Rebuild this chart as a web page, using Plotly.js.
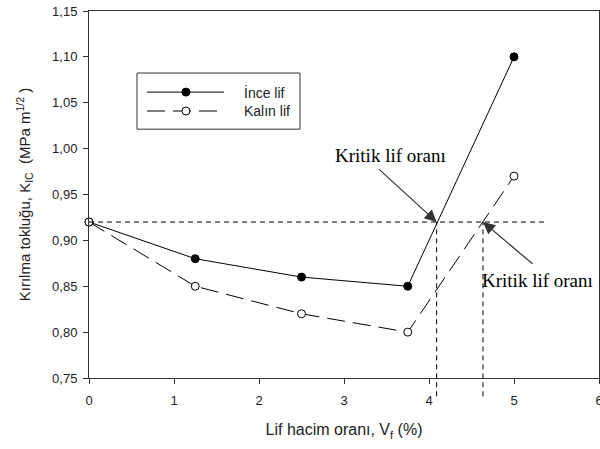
<!DOCTYPE html>
<html><head><meta charset="utf-8">
<script src="https://cdn.plot.ly/plotly-3.0.1.min.js"></script>
<style>body{margin:0;background:#fff}#c{width:600px;height:449px}</style>
</head><body><div id="c"></div>
<script>
var vf = [0, 1.25, 2.5, 3.75, 5];
var inceLif = [0.92, 0.88, 0.86, 0.85, 1.10];
var kalinLif = [0.92, 0.85, 0.82, 0.80, 0.97];
var seriesNames = ['İnce lif', 'Kalın lif'];
var criticalK = 0.92;
var criticalX = [4.09, 4.635];
var refLineEnd = 5.4;
var annText = 'Kritik lif oranı';

var traces = [
  {x: vf, y: inceLif, name: seriesNames[0], mode: 'lines+markers', type: 'scatter',
   line: {color: '#000', width: 1},
   marker: {symbol: 'circle', size: 8, color: '#000', line: {color: '#000', width: 1}}, cliponaxis: false},
  {x: vf, y: kalinLif, name: seriesNames[1], mode: 'lines+markers', type: 'scatter',
   line: {color: '#000', width: 1, dash: '18px,8px'},
   marker: {symbol: 'circle', size: 8, color: '#fff', line: {color: '#000', width: 1}}, cliponaxis: false}
];

var yTop = (criticalK - 0.75) / 0.4;
var shapes = [
  {type: 'line', xref: 'x', yref: 'y', x0: 0, x1: refLineEnd, y0: criticalK, y1: criticalK,
   line: {color: '#000', width: 1, dash: '5px,4px'}},
  {type: 'line', xref: 'x', yref: 'paper', x0: criticalX[0], x1: criticalX[0], y0: -0.05, y1: yTop,
   line: {color: '#000', width: 1, dash: '5px,4px'}},
  {type: 'line', xref: 'x', yref: 'paper', x0: criticalX[1], x1: criticalX[1], y0: -0.05, y1: yTop,
   line: {color: '#000', width: 1, dash: '5px,4px'}},
  // legend box
  {type: 'rect', xref: 'paper', yref: 'paper', x0: 0.0941, x1: 0.4137, y0: 0.678, y1: 0.831,
   line: {color: '#333', width: 1}, fillcolor: '#fff'},
  {type: 'line', xref: 'paper', yref: 'paper', x0: 0.1137, x1: 0.2647, y0: 0.779, y1: 0.779,
   line: {color: '#000', width: 1}},
  {type: 'line', xref: 'paper', yref: 'paper', x0: 0.1137, x1: 0.2647, y0: 0.7275, y1: 0.7275,
   line: {color: '#000', width: 1, dash: '18px,8px'}},
  {type: 'circle', xref: 'paper', yref: 'paper', xsizemode: 'pixel', ysizemode: 'pixel',
   xanchor: 0.19, yanchor: 0.779, x0: -4, x1: 4, y0: -4, y1: 4,
   line: {color: '#000', width: 1}, fillcolor: '#000'},
  {type: 'circle', xref: 'paper', yref: 'paper', xsizemode: 'pixel', ysizemode: 'pixel',
   xanchor: 0.19, yanchor: 0.7275, x0: -4, x1: 4, y0: -4, y1: 4,
   line: {color: '#000', width: 1}, fillcolor: '#fff'}
];

var annFont = {family: 'Liberation Serif, Times New Roman, serif', size: 19, color: '#000'};
var legFont = {family: 'Arial, Liberation Sans, sans-serif', size: 14, color: '#222'};
var annotations = [
  {x: criticalX[0], y: criticalK, xref: 'x', yref: 'y', text: '', showarrow: true,
   arrowhead: 2, arrowsize: 2, arrowwidth: 1.2, arrowcolor: '#333', standoff: 0, ax: -59, ay: -54},
  {x: criticalX[1], y: criticalK, xref: 'x', yref: 'y', text: '', showarrow: true,
   arrowhead: 2, arrowsize: 2, arrowwidth: 1.2, arrowcolor: '#333', standoff: 0, ax: 51, ay: 43},
  {x: criticalX[0], y: criticalK, xref: 'x', yref: 'y', text: annText, showarrow: false,
   xshift: -46, yshift: 67, font: annFont, xanchor: 'center', yanchor: 'middle'},
  {x: criticalX[1], y: criticalK, xref: 'x', yref: 'y', text: annText, showarrow: false,
   xshift: 55, yshift: -58, font: annFont, xanchor: 'center', yanchor: 'middle'},
  {x: 0.3, y: 0.779, xref: 'paper', yref: 'paper', text: seriesNames[0], showarrow: false,
   xanchor: 'left', yanchor: 'middle', font: legFont},
  {x: 0.3, y: 0.7275, xref: 'paper', yref: 'paper', text: seriesNames[1], showarrow: false,
   xanchor: 'left', yanchor: 'middle', font: legFont}
];

var layout = {
  width: 600, height: 449,
  margin: {l: 89, r: 1, t: 11, b: 71},
  paper_bgcolor: '#fff', plot_bgcolor: '#fff',
  separators: ',.',
  font: {family: 'Arial, Liberation Sans, sans-serif', size: 13, color: '#222'},
  showlegend: false,
  xaxis: {range: [0, 6], dtick: 1, tick0: 0, showgrid: false, zeroline: false,
    showline: true, linecolor: '#333', linewidth: 1, mirror: true,
    ticks: 'outside', ticklen: 5, tickcolor: '#333', ticklabeloverflow: 'allow',
    ticklabelstandoff: 5,
    tickfont: {size: 13, color: '#222'},
    title: {text: 'Lif hacim oranı, V<sub>f</sub> (%)', font: {size: 16, color: '#222'}, standoff: 17}},
  yaxis: {range: [0.75, 1.15], dtick: 0.05, tick0: 0.75, tickformat: '.2f', showgrid: false, zeroline: false,
    showline: true, linecolor: '#333', linewidth: 1, mirror: true,
    ticks: 'outside', ticklen: 5, tickcolor: '#333', ticklabelstandoff: 3,
    tickfont: {size: 13, color: '#222'},
    title: {text: 'Kırılma tokluğu, K<sub>IC</sub>  (MPa m<sup>1/2</sup> )', font: {size: 15, color: '#222'}, standoff: 17}},
  shapes: shapes,
  annotations: annotations
};

Plotly.newPlot('c', traces, layout, {displayModeBar: false, staticPlot: true});
</script>
</body></html>
